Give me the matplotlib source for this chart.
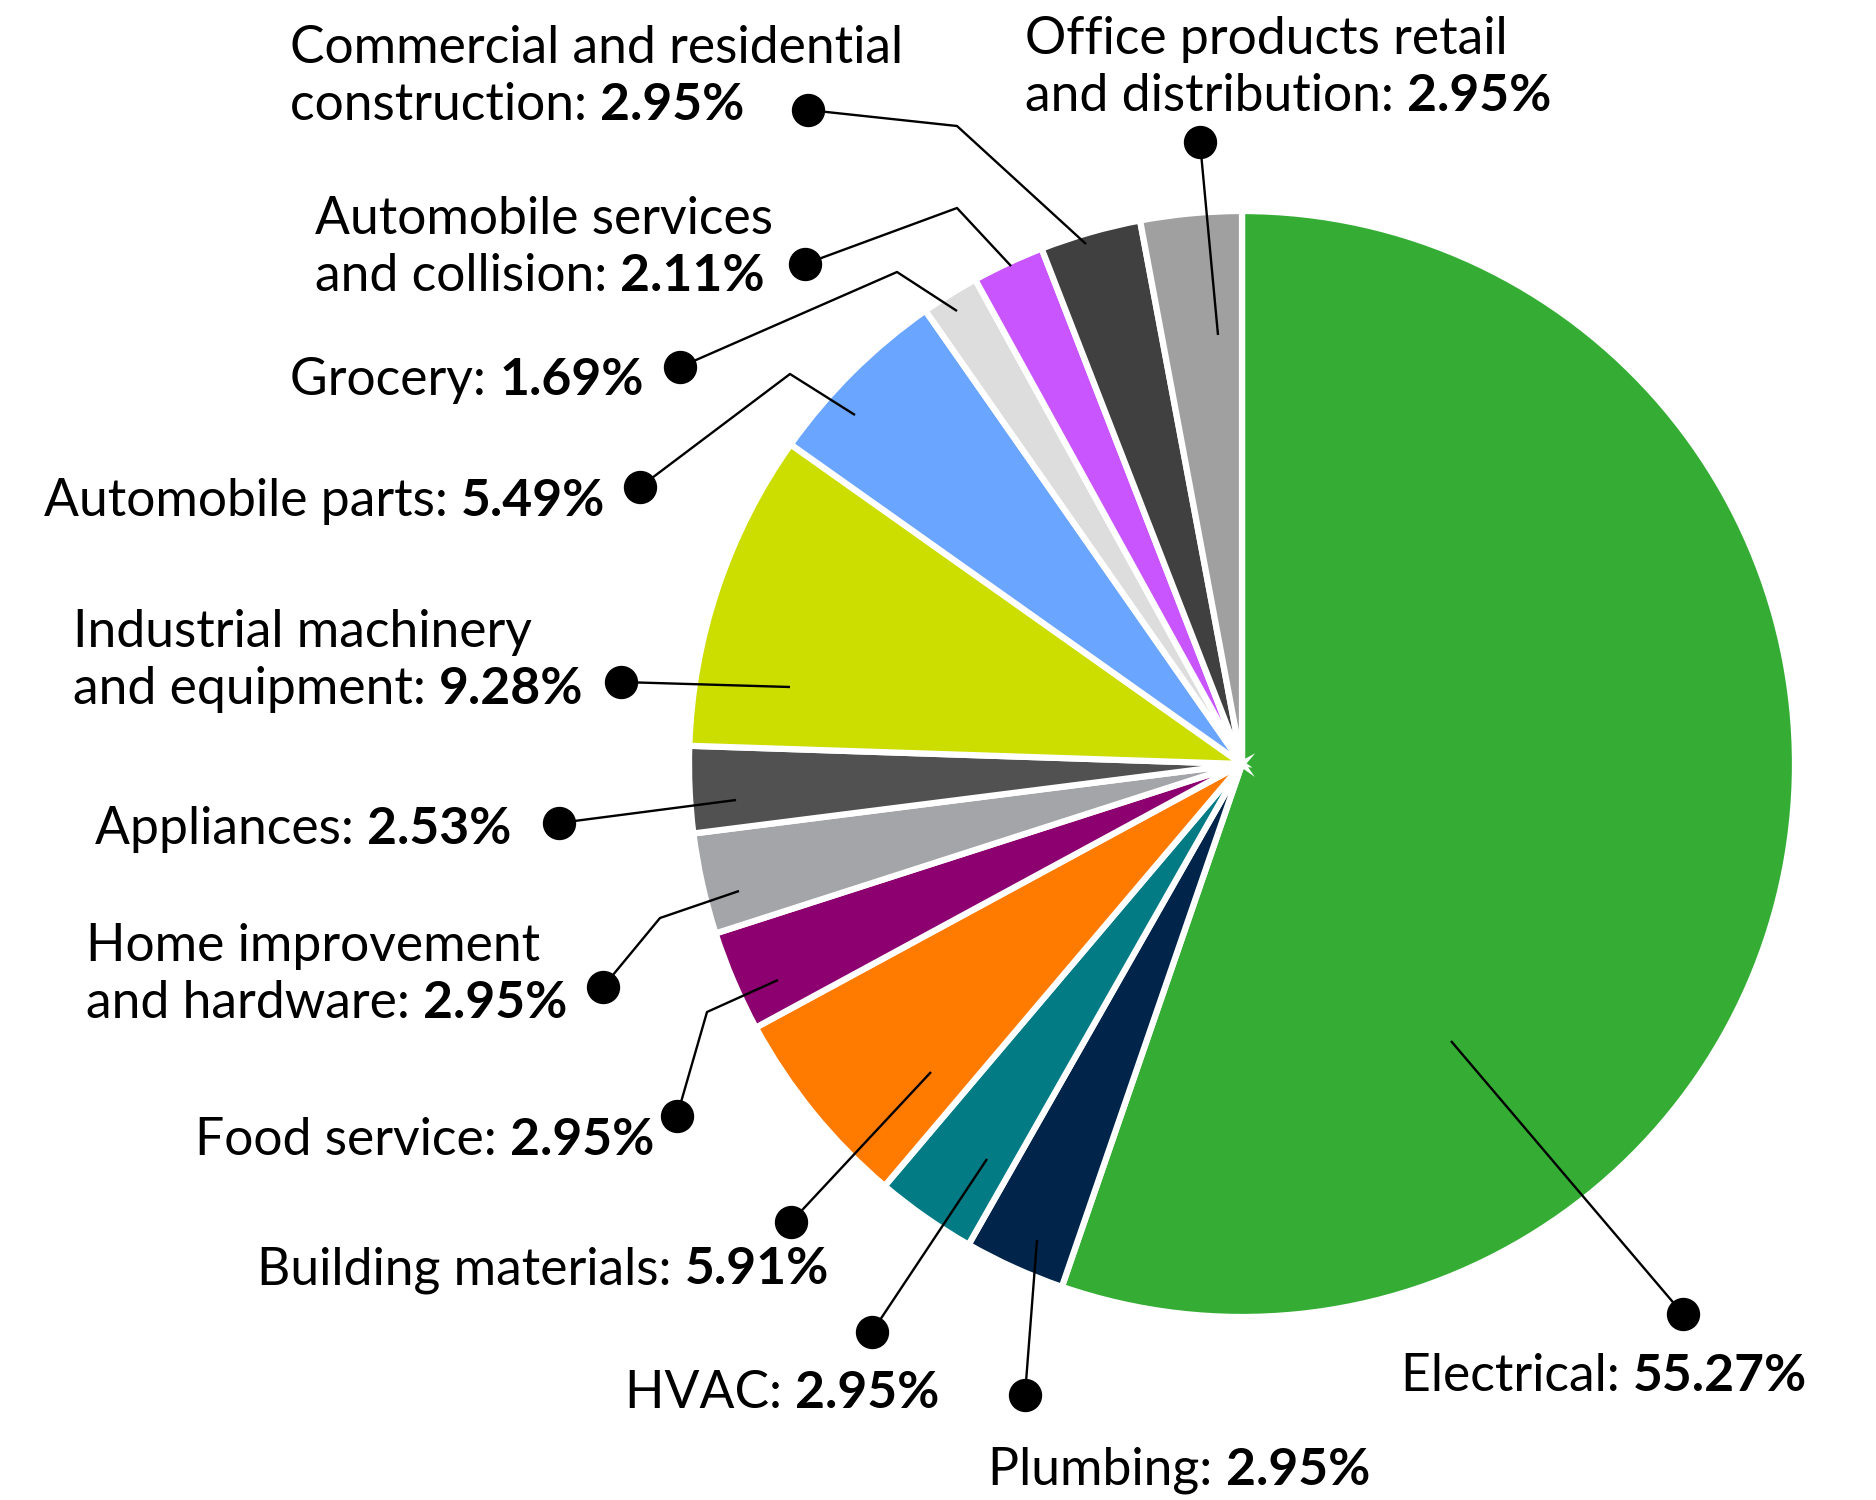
import matplotlib
matplotlib.use("Agg")
import matplotlib.pyplot as plt

plt.rcParams['font.family'] = ['Lato', 'DejaVu Sans']

# sector shares, clockwise from 12 o'clock
sectors = ['Electrical', 'Plumbing', 'HVAC', 'Building materials', 'Food service',
           'Home improvement\nand hardware', 'Appliances',
           'Industrial machinery\nand equipment', 'Automobile parts', 'Grocery',
           'Automobile services\nand collision', 'Commercial and residential\nconstruction',
           'Office products retail\nand distribution']
shares = [55.27, 2.95, 2.95, 5.91, 2.95, 2.95, 2.53, 9.28, 5.49, 1.69, 2.11, 2.95, 2.95]
colors = ['#35ad35', '#00244a', '#027b85', '#ff7b00', '#8c006f', '#a4a5a8', '#505150',
          '#ccdd00', '#6aa5ff', '#dddddd', '#c955ff', '#404040', '#a0a0a0']

W, H = 1876, 1500
# label layout in pixels (x, y from top): text left edge, baseline of last line,
# dot, optional elbow, anchor inside slice
text_xy = [(1401, 1391), (988, 1485), (625, 1408), (257, 1284), (195, 1155),
           (86, 1018), (95, 844), (73, 704), (44, 516), (290, 395),
           (315, 291), (290, 120), (1025, 111)]
dot_xy = [(1683, 1314), (1025, 1395), (872, 1332), (791, 1222), (677, 1116),
          (603, 987), (559, 823), (621, 682), (640, 487), (680, 367),
          (805, 264), (808, 110), (1200, 142)]
elbow_xy = [None, None, None, None, (707, 1012), (660, 918), None, None,
            (790, 374), (897, 272), (957, 208), (957, 126), None]
anchor_xy = [(1451, 1041), (1037, 1240), (987, 1159), (931, 1072), (778, 980),
             (739, 891), (736, 800), (790, 687), (855, 415), (957, 311),
             (1011, 266), (1086, 244), (1218, 335)]

FS = 37.2
LINE = 57

fig = plt.figure(figsize=(W / 100, H / 100), dpi=100)
ax = fig.add_axes([0, 0, 1, 1])

R = 553
explode = [9 / R] + [0] * (len(shares) - 1)
ax.pie(shares, colors=colors, startangle=90, counterclock=False,
       center=(1242, H - 764), radius=R, explode=explode,
       wedgeprops=dict(edgecolor='white', linewidth=4.5))
ax.set_xlim(0, W)
ax.set_ylim(0, H)
ax.set_aspect('equal')
ax.axis('off')

# leader lines with dots
for i in range(len(sectors)):
    pts = [dot_xy[i]]
    if elbow_xy[i] is not None:
        pts.append(elbow_xy[i])
    pts.append(anchor_xy[i])
    xs = [p[0] for p in pts]
    ys = [H - p[1] for p in pts]
    ax.plot(xs, ys, color='black', lw=1.7, solid_capstyle='butt', zorder=5)
    ax.plot(xs[0], ys[0], 'o', color='black', ms=23, zorder=6)

fig.canvas.draw()
renderer = fig.canvas.get_renderer()

for i, name in enumerate(sectors):
    x, yb = text_xy[i]
    lines = name.split('\n')
    n = len(lines)
    for k, ln in enumerate(lines):
        y = H - (yb - (n - 1 - k) * LINE)
        if k < n - 1:
            ax.text(x, y, ln, fontsize=FS, va='baseline', ha='left')
        else:
            t = ax.text(x, y, ln + ': ', fontsize=FS, va='baseline', ha='left')
            bb = t.get_window_extent(renderer)
            ax.text(bb.x1, y, f'{shares[i]:.2f}%', fontsize=FS, fontweight='bold',
                    va='baseline', ha='left')

fig.savefig('out.png', dpi=100, facecolor='white')
